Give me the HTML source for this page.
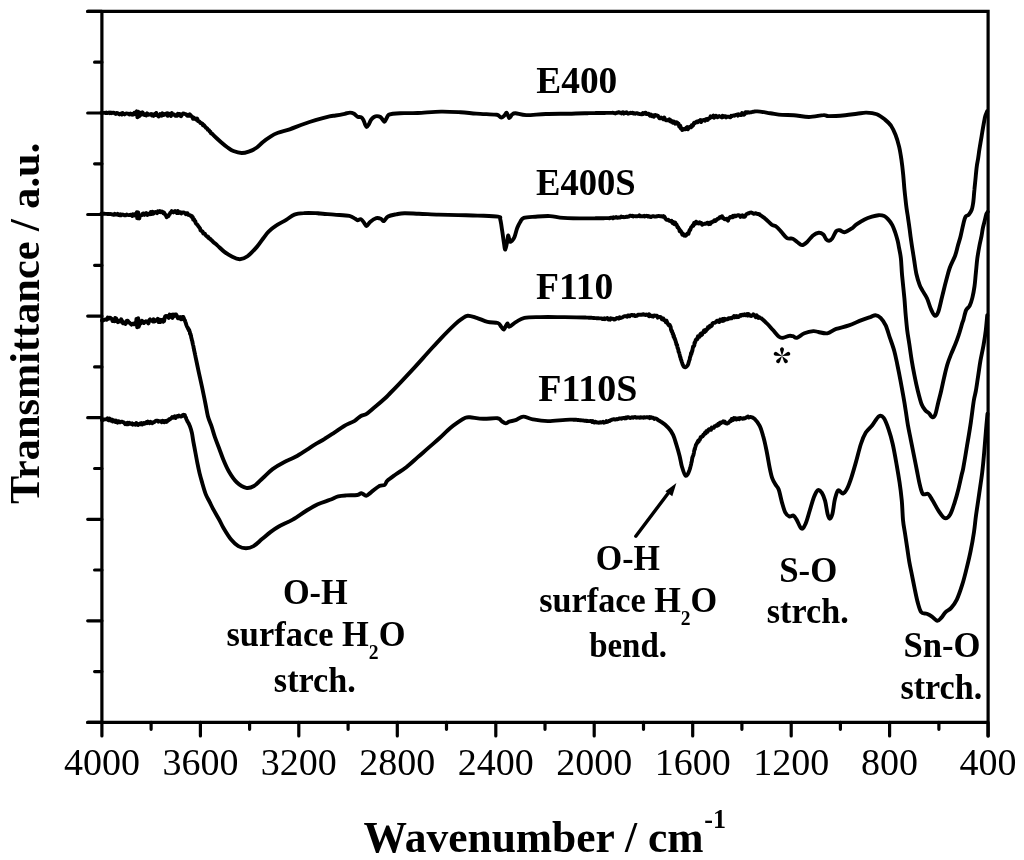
<!DOCTYPE html>
<html><head><meta charset="utf-8"><style>html,body{margin:0;padding:0;background:#fff;width:1024px;height:860px;overflow:hidden}svg{display:block;filter:grayscale(1)}</style></head>
<body><svg width="1024" height="860" viewBox="0 0 1024 860">
<path d="M87.7,11.4 H988.1 V735.9 M101.9,11.4 V722.4 M87.7,722.4 H988.1" fill="none" stroke="#000" stroke-width="3.2" stroke-linecap="round" stroke-linejoin="miter"/>
<path d="M87.7,11.4H101.9M87.7,113.0H101.9M87.7,214.5H101.9M87.7,316.1H101.9M87.7,417.7H101.9M87.7,519.3H101.9M87.7,620.8H101.9M87.7,722.4H101.9M94.6,62.2H101.9M94.6,163.8H101.9M94.6,265.3H101.9M94.6,366.9H101.9M94.6,468.5H101.9M94.6,570.0H101.9M94.6,671.6H101.9M101.9,722.4V735.9M200.4,722.4V735.9M298.8,722.4V735.9M397.3,722.4V735.9M495.8,722.4V735.9M594.2,722.4V735.9M692.7,722.4V735.9M791.2,722.4V735.9M889.6,722.4V735.9M988.1,722.4V735.9M151.1,722.4V729.3M249.6,722.4V729.3M348.1,722.4V729.3M446.5,722.4V729.3M545.0,722.4V729.3M643.5,722.4V729.3M741.9,722.4V729.3M840.4,722.4V729.3M938.9,722.4V729.3" fill="none" stroke="#000" stroke-width="3.2" stroke-linecap="round"/>
<g font-family="'Liberation Serif', serif" font-size="38"><text x="101.9" y="775" text-anchor="middle">4000</text><text x="200.4" y="775" text-anchor="middle">3600</text><text x="298.8" y="775" text-anchor="middle">3200</text><text x="397.3" y="775" text-anchor="middle">2800</text><text x="495.8" y="775" text-anchor="middle">2400</text><text x="594.2" y="775" text-anchor="middle">2000</text><text x="692.7" y="775" text-anchor="middle">1600</text><text x="791.2" y="775" text-anchor="middle">1200</text><text x="889.6" y="775" text-anchor="middle">800</text><text x="988.1" y="775" text-anchor="middle">400</text></g>
<g font-family="'Liberation Serif', serif"><text transform="translate(536.26,92.95) scale(0.9844,1)" font-size="38" font-weight="bold">E400</text>
<text transform="translate(535.98,195.45) scale(0.9640,1)" font-size="38" font-weight="bold">E400S</text>
<text transform="translate(535.96,299.15) scale(0.9908,1)" font-size="38" font-weight="bold">F110</text>
<text transform="translate(538.25,401.15) scale(1.0000,1)" font-size="38" font-weight="bold">F110S</text>
<text transform="translate(282.88,604.45) scale(0.9804,1)" font-size="35" font-weight="bold">O-H</text>
<text transform="translate(226.42,646.40) scale(0.9835,1)" font-size="35" font-weight="bold">surface H<tspan font-size="20" dy="13">2</tspan><tspan dy="-13">O</tspan></text>
<text transform="translate(273.82,691.90) scale(0.9779,1)" font-size="35" font-weight="bold">strch.</text>
<text transform="translate(595.70,569.75) scale(0.9710,1)" font-size="35" font-weight="bold">O-H</text>
<text transform="translate(539.22,611.70) scale(0.9780,1)" font-size="35" font-weight="bold">surface H<tspan font-size="20" dy="13">2</tspan><tspan dy="-13">O</tspan></text>
<text transform="translate(589.13,656.80) scale(0.9424,1)" font-size="35" font-weight="bold">bend.</text>
<text transform="translate(779.26,581.75) scale(0.9945,1)" font-size="35" font-weight="bold">S-O</text>
<text transform="translate(766.82,623.00) scale(0.9755,1)" font-size="35" font-weight="bold">strch.</text>
<text transform="translate(903.47,657.05) scale(0.9899,1)" font-size="35" font-weight="bold">Sn-O</text>
<text transform="translate(900.43,698.60) scale(0.9742,1)" font-size="35" font-weight="bold">strch.</text>
<text transform="translate(363.57,851.55) scale(0.9670,1)" font-size="45" font-weight="bold">Wavenumber / cm</text>
<text transform="translate(704.24,828.30) scale(0.9650,1)" font-size="27" font-weight="bold">-1</text>
<text transform="translate(39.1,504.04) rotate(-90) scale(0.9844,1)" font-size="43" font-weight="bold">Transmittance / a.u.</text></g>
<path d="M782.00,355.90L780.09,349.91A2.0,2.0 0 1 1 783.91,349.91ZM782.00,355.90L787.11,352.24A2.0,2.0 0 1 1 788.29,355.86ZM782.00,355.90L787.07,359.63A2.0,2.0 0 1 1 783.98,361.87ZM782.00,355.90L780.02,361.87A2.0,2.0 0 1 1 776.93,359.63ZM782.00,355.90L775.71,355.86A2.0,2.0 0 1 1 776.89,352.24Z" fill="#000"/>
<path d="M635.8,536.2L669.5,491.5" stroke="#000" stroke-width="3.4" stroke-linecap="round"/>
<path d="M676.4,483 L665.4,491.2 L672.3,496.2 Z" fill="#000"/>
<g fill="none" stroke="#000" stroke-width="3.9" stroke-linejoin="round" stroke-linecap="round"><path d="M101.9,112.9C102.2,112.9 99.9,112.8 103.5,112.9L104.0,112.9L104.5,112.9L105.2,112.8L105.8,113.1L106.6,112.6L107.4,113.1L108.2,112.9L109.1,112.4L109.9,113.2L110.9,112.5L111.8,113.2L112.8,112.6L113.7,112.7L114.7,113.3L115.7,114.0L116.6,112.9L117.6,113.1L118.5,113.8L119.4,114.4L120.3,113.8L121.1,113.5L121.9,114.5L122.7,113.0L123.4,113.8L124.5,114.4L125.5,113.6L126.6,113.5L127.6,113.6L128.5,113.9L129.5,114.5L130.4,113.5L131.3,114.4L132.1,114.7L132.9,113.8L133.6,114.4L134.3,112.7L134.9,112.6L135.4,113.1L135.9,114.1L137.0,113.8L136.9,111.7L136.7,111.6L136.8,111.4L137.0,113.4L137.1,114.1L137.2,114.7L137.4,117.3L137.5,116.6L137.6,117.0L137.8,114.5L137.9,114.5L138.0,113.2L138.2,113.5L138.3,111.8L138.5,113.0L138.6,112.5L138.8,116.3L138.9,114.3L139.1,116.3L138.8,115.2L140.0,114.2L140.5,115.1L141.1,112.8L141.8,114.0L142.6,112.4L143.4,114.7L144.3,115.0L145.3,114.3L146.2,115.4L147.2,113.4L148.2,114.8L149.2,114.5L150.1,114.5L151.0,114.1L151.9,115.5L152.7,114.3L153.6,115.9L154.5,114.3L155.3,115.0L156.2,112.9L157.0,115.3L157.8,115.2L158.6,116.5L159.4,115.9L160.2,114.1L161.0,114.5L161.8,115.6L162.5,113.3L163.3,115.0L164.2,114.9L165.1,113.8L166.0,113.6L166.8,113.3L167.7,115.8L168.5,113.5L169.3,113.9L170.2,114.3L171.0,116.0L171.9,113.1L172.7,114.6L173.6,114.4L174.4,114.7L175.3,115.9L176.2,115.7L177.1,115.8L177.9,113.7L178.8,114.2L179.6,114.0L180.5,115.9L181.2,116.2L182.0,114.6L183.0,113.4L184.0,113.6L184.9,114.0L185.8,114.1L186.6,115.2L187.5,115.8L188.2,114.8L189.0,115.8L189.9,114.3L190.7,116.0L191.5,116.0L192.2,117.0L193.0,118.8L193.8,117.6L194.5,118.7L195.1,118.4L195.8,119.2L196.5,119.8L197.2,118.6L198.0,121.1L198.8,121.3L199.6,121.7L200.1,122.5L200.6,123.0L201.2,123.0L201.8,123.6L202.4,123.6L203.0,125.2L203.6,124.8L204.2,125.4L204.8,126.3L205.4,126.9L206.0,127.8L206.6,127.9L207.2,128.4L207.8,129.9L208.4,129.9L209.1,130.4L209.7,131.5L210.4,131.6L211.0,133.5L211.7,133.7L212.3,133.9L213.0,134.7L213.6,135.3L214.2,135.9L214.8,136.5L215.4,137.0L215.9,137.5C218.2,139.7 219.8,141.1 221.7,142.8C223.6,144.5 225.6,146.1 227.6,147.5C229.6,148.9 231.1,150.1 233.4,151.0C235.7,151.9 239.1,152.9 241.6,153.0C244.1,153.1 246.1,152.5 248.7,151.6C251.2,150.7 254.6,149.1 256.9,147.5C259.2,145.9 260.4,144.1 262.7,142.2C265.0,140.3 268.3,137.9 270.9,136.3C273.4,134.7 274.9,134.0 278.0,132.8C281.1,131.6 285.4,130.8 289.7,129.3C294.0,127.8 299.5,125.5 303.8,124.0C308.1,122.5 311.2,121.5 315.5,120.2C319.8,118.9 326.1,117.2 329.5,116.4C332.9,115.6 333.1,115.9 335.6,115.5C338.1,115.1 342.3,114.3 344.7,113.8C347.1,113.3 348.4,112.6 350.0,112.6C351.6,112.6 352.8,113.1 354.1,113.8C355.4,114.5 356.4,116.1 357.6,116.7C358.8,117.3 360.1,116.8 361.1,117.3C362.1,117.8 362.7,118.7 363.4,119.9C364.1,121.1 364.6,123.4 365.2,124.6C365.8,125.8 366.1,127.0 366.7,127.0C367.3,127.0 368.0,125.8 368.7,124.6C369.4,123.4 370.1,121.2 371.0,119.9C371.9,118.6 373.0,117.6 374.0,117.0C375.0,116.4 375.8,116.1 376.9,116.1C378.0,116.1 379.4,116.4 380.4,117.0C381.4,117.6 382.1,119.1 382.8,119.9C383.5,120.7 383.9,121.9 384.5,121.7C385.1,121.5 385.6,119.8 386.3,118.7C387.0,117.6 387.5,115.7 388.6,114.9C389.7,114.1 390.8,114.1 392.7,113.8C394.6,113.5 395.8,113.3 400.0,113.2C404.2,113.1 410.9,113.3 417.7,113.0C424.5,112.7 433.9,111.7 441.0,111.6C448.1,111.5 454.7,111.9 460.6,112.2C466.5,112.5 470.6,113.2 476.3,113.6C482.0,114.0 491.4,114.3 495.0,114.6C498.6,114.8 496.8,114.6 497.9,115.1C498.9,115.6 500.2,117.5 501.3,117.6C502.4,117.7 503.4,116.4 504.3,115.6C505.2,114.8 505.9,112.3 506.7,112.7C507.5,113.1 508.3,117.8 509.2,118.1C510.1,118.4 511.1,115.4 512.1,114.6C513.1,113.8 513.1,113.1 515.5,113.2C517.9,113.3 521.2,115.0 526.3,115.1C531.3,115.2 538.8,114.2 545.8,114.0C552.8,113.8 561.7,113.8 568.2,113.7C574.7,113.6 577.3,113.3 584.8,113.2L585.5,113.2L586.1,113.2L586.9,113.2L587.6,113.2L588.4,113.1L589.1,113.1L589.9,113.1L590.7,113.1L591.6,113.1L592.4,113.1L593.3,113.1L594.1,113.1L595.0,113.1L595.9,113.0L596.8,113.0L597.7,113.0L598.6,113.0L599.5,113.0L600.4,113.0L601.3,113.0L602.2,113.0L603.1,113.0L603.9,113.0L604.8,113.0L605.7,112.9L606.5,112.9L607.4,112.9L608.2,112.9L609.0,112.9L609.8,112.9L610.6,112.9L611.3,112.9L612.0,112.9L612.7,112.8L613.4,112.9L614.4,113.2L615.4,113.5L616.4,112.8L617.3,112.9L618.2,112.3L619.1,112.3L619.9,112.7L620.7,112.6L621.5,113.4L622.3,112.4L623.0,112.3L623.8,113.6L624.5,113.0L625.2,112.5L625.9,113.0L626.7,112.3L627.4,113.0L628.1,113.7L628.8,113.5L629.5,113.3L630.3,112.7L631.0,113.1L631.9,112.9L632.7,112.7L633.6,113.6L634.5,113.3L635.4,113.7L636.3,113.1L637.2,113.1L638.0,113.7L638.9,113.8L639.7,114.0L640.6,114.2L641.4,114.4L642.2,114.4L642.9,113.0L643.7,113.9L644.4,113.5L645.1,112.7L645.7,112.7L646.3,114.1L647.6,113.6L648.6,113.6L649.4,115.0L650.2,115.8L650.9,114.5L651.6,116.0L652.4,116.3L653.3,115.2L654.0,116.7L654.7,115.2L655.5,115.0L656.3,115.3L657.1,115.5L657.9,115.8L658.7,117.2L659.5,118.3L660.3,118.4L661.1,117.6L661.9,118.4L662.7,118.2L663.5,119.3L664.3,117.5L665.1,119.4L665.9,120.3L666.8,120.2L667.6,120.4L668.4,119.8L669.2,119.2L669.9,121.2L670.6,120.1L671.3,121.7L672.0,121.1L672.9,122.8L673.8,121.5L674.6,121.9L675.3,123.7L676.0,123.5L676.7,122.3L677.3,122.5L677.9,124.0L678.6,123.7L679.2,126.5L679.8,127.0L680.3,125.9L680.8,128.5L681.4,128.1L682.2,130.0L683.1,129.5L683.9,128.9L684.9,129.3L685.6,129.3L686.3,127.8L687.1,127.1L687.9,129.3L688.7,127.9L689.6,127.0L690.3,126.6L691.0,127.3L691.7,125.3L692.4,126.0L693.2,125.3L693.9,123.0L694.7,122.6L695.5,122.9L696.2,122.0L697.0,121.5L697.8,122.2L698.7,121.0L699.5,121.2L700.3,120.1L701.1,122.1L701.8,120.3L702.5,120.5L703.5,120.0L704.3,120.1L705.1,120.7L705.9,119.1L707.0,119.0L707.7,120.0L708.3,118.6L709.1,118.4L709.8,118.1L710.6,116.4L711.5,117.3L712.4,116.4L713.3,115.6L714.2,117.7L715.2,116.7L715.9,115.7L716.7,116.5L717.5,117.2L718.3,116.8L719.2,116.1L720.0,116.7L720.9,116.9L721.8,117.5L722.6,115.7L723.5,117.0L724.4,116.1L725.3,116.2L726.2,117.5L727.0,116.7L727.8,116.6L728.7,116.6L729.5,117.1L730.4,117.3L731.2,115.8L732.1,116.1L732.9,115.6L733.8,115.4L734.6,115.7L735.4,114.9L736.3,114.9L737.1,114.6L737.9,115.7L738.7,114.3L739.6,114.7L740.4,115.0L741.3,115.1L742.1,113.0L742.9,113.7L743.8,114.7L744.6,114.3L745.4,112.2L746.2,112.1L747.0,112.8L747.7,112.1L748.5,112.4L749.2,112.6L750.1,112.4L750.9,112.3L751.7,112.1L752.4,111.9L753.2,111.8L753.9,111.6L754.7,111.5L755.5,111.4L756.4,111.4L757.4,111.4C760.9,111.5 766.2,112.6 770.3,113.2C774.4,113.8 778.1,114.6 782.0,114.9C785.9,115.2 789.3,114.9 793.8,115.2C798.3,115.5 804.0,117.0 809.0,117.0C814.0,117.0 820.2,115.2 823.5,115.1C826.8,114.9 825.2,116.1 828.8,116.1C832.4,116.1 840.5,115.6 845.2,115.2C849.9,114.8 853.4,114.2 856.9,113.8C860.4,113.4 863.0,112.5 866.3,112.6C869.6,112.7 873.7,113.1 876.8,114.3C879.9,115.5 882.6,117.7 885.0,119.6C887.4,121.5 889.1,123.0 890.9,125.5C892.6,128.0 894.1,131.3 895.5,134.8C896.9,138.3 898.1,142.5 899.1,146.6C900.1,150.7 900.7,154.8 901.4,159.5C902.1,164.2 902.7,169.6 903.2,174.7C903.7,179.8 904.0,185.0 904.5,190.0C905.0,195.0 905.6,200.4 906.1,204.8C906.6,209.2 907.2,212.4 907.8,216.2C908.3,220.0 908.9,223.9 909.4,227.5C909.9,231.1 910.2,233.7 910.7,237.5C911.2,241.3 912.0,246.5 912.6,250.3C913.2,254.1 913.6,256.4 914.2,260.4C914.8,264.3 915.5,270.0 916.4,274.0C917.3,278.0 918.5,281.8 919.5,284.6C920.5,287.4 921.2,288.3 922.5,290.6C923.8,292.9 925.6,295.2 927.0,298.2C928.4,301.2 929.5,305.9 930.8,308.8C932.1,311.7 933.5,315.1 934.8,315.6C936.0,316.1 937.1,315.0 938.3,311.8C939.5,308.6 940.8,301.7 942.1,296.7C943.4,291.7 944.6,286.4 945.9,281.6C947.2,276.8 948.2,272.3 949.7,268.0C951.2,263.7 953.6,259.7 955.0,256.0C956.4,252.3 956.9,249.3 957.8,246.0C958.7,242.7 959.7,239.9 960.6,236.2C961.5,232.5 962.6,226.9 963.4,223.7C964.2,220.4 964.6,218.2 965.5,216.7C966.4,215.2 967.9,215.8 968.9,214.6C969.9,213.4 971.0,211.6 971.7,209.8C972.4,208.0 972.6,206.1 973.0,204.0C973.4,201.9 973.6,199.3 973.8,197.0C974.0,194.7 974.1,192.7 974.4,190.0C974.6,187.3 974.9,184.8 975.3,180.9C975.7,177.1 976.2,170.6 976.7,166.9C977.2,163.2 977.6,161.6 978.1,158.6C978.6,155.6 978.9,152.5 979.5,148.8C980.1,145.1 981.0,139.8 981.6,136.3C982.2,132.8 982.4,131.2 983.0,127.9C983.6,124.6 984.4,119.5 985.1,116.7C985.8,113.9 986.9,112.1 987.2,111.2"/><path d="M101.9,213.8C102.2,213.8 99.9,213.7 103.5,213.8L104.0,213.8L104.5,213.8L105.2,213.9L105.8,213.9L106.6,213.9L107.4,214.0L108.2,214.0L109.1,214.0L109.9,214.1L110.9,214.0L111.8,214.3L112.8,214.5L113.7,214.8L114.7,213.8L115.7,214.6L116.6,214.6L117.6,213.9L118.5,215.0L119.4,215.2L120.3,214.2L121.1,215.2L121.9,214.5L122.7,214.6L123.4,214.7L124.5,215.4L125.5,215.3L126.6,214.5L127.6,214.9L128.5,215.1L129.5,215.0L130.4,214.8L131.3,214.9L132.1,215.9L132.9,214.2L133.6,215.6L134.3,215.3L134.9,214.2L135.4,215.0L135.9,215.4L137.0,214.8L136.9,213.2L136.7,212.8L136.8,212.2L137.0,215.7L137.1,216.4L137.2,218.1L137.4,216.8L137.5,218.2L137.6,217.2L137.8,215.7L137.9,216.4L138.0,213.8L138.2,212.4L138.3,213.0L138.4,213.1L138.6,215.2L138.7,216.1L138.8,215.7L139.0,216.4L139.1,217.8L139.3,218.5L139.6,216.4L140.0,215.3L140.7,215.6L142.2,214.9L142.8,213.7L143.6,213.5L144.4,214.9L145.2,214.1L146.2,213.0L147.2,215.0L148.2,214.0L149.2,213.5L150.0,214.1L150.8,212.1L151.7,214.0L152.6,211.7L153.6,213.6L154.5,212.4L155.4,211.9L156.3,212.4L157.1,213.2L157.9,211.4L158.6,212.0L159.7,211.1L160.5,212.2L161.3,211.6L162.0,211.5L162.6,212.0L163.3,213.2L164.0,212.6L164.7,213.7L165.3,214.8L166.0,215.5L166.7,217.2L167.4,216.7L168.0,215.9L168.5,216.0L169.1,214.5L169.7,214.1L170.4,212.5L171.1,212.3L171.8,211.1L172.7,212.0L173.4,212.5L174.2,211.9L175.1,211.0L176.0,211.8L176.9,213.0L177.9,211.0L178.8,213.0L179.7,212.1L180.5,212.4L181.3,213.4L182.0,212.6L183.2,212.4L184.2,212.7L185.0,213.2L185.8,214.1L186.7,213.2L187.4,213.1L188.1,214.8L188.8,215.0L189.5,215.3L190.1,215.3L190.8,215.7L191.4,216.7L191.9,216.1L192.4,216.8L192.8,217.2L193.2,219.6L193.7,219.0L194.2,219.6L194.9,221.4L195.3,221.2L195.7,223.0L196.1,223.6L196.5,223.9L197.0,224.3L197.5,225.0L198.0,225.7L198.5,226.5L199.0,226.9L199.5,227.9L200.0,228.3L200.5,230.2L201.0,230.8L201.5,230.8L202.0,231.3L202.6,231.6L203.2,233.4L203.7,233.0L204.3,233.7L204.9,233.7L205.4,234.9L206.0,235.6L206.6,236.2L207.2,236.2L207.8,237.3L208.4,237.0L209.0,238.4L209.6,238.6L210.2,238.8L210.8,239.8L211.4,240.0L212.0,240.6L212.7,241.4L213.3,242.0L213.9,242.6L214.6,243.1L215.2,243.6L215.8,244.1L216.4,244.6L217.0,245.1C219.5,247.3 221.5,249.6 224.1,251.6C226.7,253.6 229.7,255.5 232.3,256.8C234.9,258.1 237.4,259.3 239.9,259.2C242.4,259.1 244.7,258.4 247.5,256.3C250.3,254.2 254.2,250.0 256.9,246.9C259.6,243.8 261.9,240.1 263.9,237.5C265.8,234.9 266.5,233.7 268.6,231.6C270.8,229.5 273.9,227.1 276.8,225.2C279.7,223.2 283.3,221.7 286.2,219.9C289.1,218.1 291.5,215.7 294.4,214.6C297.3,213.5 300.3,213.3 303.8,213.1C307.3,212.8 312.8,213.0 315.5,213.1C318.2,213.2 316.9,213.2 320.0,213.5C323.1,213.8 329.2,214.2 334.1,214.6C339.0,215.0 345.8,215.1 349.3,215.8C352.8,216.5 353.8,218.1 355.2,218.8C356.6,219.5 356.5,220.1 357.5,220.2C358.5,220.3 359.8,218.8 361.0,219.3C362.2,219.8 363.6,222.3 364.5,223.4C365.4,224.5 365.6,226.3 366.6,226.0C367.6,225.7 368.8,223.0 370.4,221.7C372.0,220.4 374.6,218.7 376.3,218.2C378.1,217.7 379.6,218.3 380.9,218.8C382.2,219.3 382.7,221.5 383.9,221.1C385.1,220.7 385.9,217.5 388.0,216.4C390.1,215.3 393.5,214.8 396.2,214.3C398.9,213.8 400.6,213.3 404.4,213.2C408.2,213.1 413.3,213.5 419.0,213.7C424.7,213.9 432.1,214.4 438.6,214.6C445.1,214.8 451.6,214.9 458.1,215.1C464.6,215.3 471.1,215.3 477.7,215.6C484.3,215.9 494.2,216.0 498.0,216.7C501.8,217.4 499.6,217.3 500.3,219.6C501.0,221.8 501.5,226.5 502.1,230.2C502.7,233.9 503.3,238.7 503.8,241.9C504.3,245.1 504.7,249.8 505.3,249.6C505.9,249.4 506.8,243.1 507.3,240.7C507.8,238.3 507.9,235.3 508.3,235.4C508.7,235.5 509.1,240.4 509.7,241.3C510.3,242.2 511.2,241.4 512.0,240.7C512.8,240.0 513.5,239.3 514.4,237.2C515.3,235.0 516.3,230.3 517.3,227.8C518.3,225.3 519.1,223.7 520.2,222.0C521.3,220.3 521.2,218.8 523.8,217.9C526.3,217.0 531.1,217.0 535.5,216.7C539.9,216.4 545.4,215.9 550.0,216.1C554.6,216.3 557.2,217.5 563.4,217.9C569.5,218.3 579.1,218.4 586.9,218.4L587.7,218.4L588.5,218.4L589.3,218.4L590.1,218.4L590.9,218.4L591.7,218.4L592.6,218.4L593.4,218.4L594.2,218.4L595.0,218.4L595.8,218.3L596.6,218.3L597.4,218.3L598.2,218.3L599.0,218.3L599.8,218.3L600.6,218.2L601.4,218.2L602.2,218.2L603.0,218.2L603.8,218.2L604.6,218.1L605.5,218.1L606.3,218.1L607.1,218.1L607.9,218.1L608.7,218.1L609.5,218.3L610.3,217.9L611.1,217.7L611.9,217.6L612.8,218.3L613.6,217.3L614.4,217.9L615.3,217.7L616.1,217.0L617.0,217.8L617.8,217.8L618.7,217.4L619.5,217.5L620.4,217.5L621.2,216.6L622.1,217.0L622.9,216.9L623.8,217.2L624.6,217.1L625.4,217.1L626.2,216.7L627.0,217.0L627.8,216.7L628.6,216.6L629.4,216.0L630.2,215.7L630.9,215.8L631.7,216.0L632.4,215.7L633.1,216.5L633.8,216.1L634.8,216.1L635.7,216.2L636.7,216.2L637.6,216.2L638.5,216.0L639.3,215.4L640.2,216.4L641.0,216.4L641.8,216.1L642.6,216.2L643.4,216.4L644.2,215.7L645.0,216.5L645.7,216.0L646.4,215.8L647.2,216.0L647.9,216.6L648.6,216.0L649.3,216.7L650.0,216.4L651.0,217.0L652.0,216.4L652.9,216.2L653.8,216.3L654.7,216.5L655.6,216.6L656.5,216.3L657.3,216.3L658.1,215.9L658.9,216.0L659.7,216.1L660.4,216.3L661.1,216.2L661.7,216.4L662.7,216.8L663.5,216.1L664.2,216.5L664.9,217.4L665.5,218.8L666.1,219.3L666.8,219.8L667.6,219.9L668.3,219.8L669.0,220.6L669.8,220.9L670.6,221.2L671.5,220.8L672.3,222.9L673.1,221.8L673.9,223.9L674.6,224.2L675.2,222.5L675.8,224.0L676.6,224.6L677.1,226.2L677.5,227.3L677.8,226.9L678.2,227.3L678.7,228.7L679.1,228.7L679.6,231.0L680.1,230.2L680.7,231.8L681.2,231.6L681.8,233.2L682.3,234.7L682.9,233.4L683.4,234.6L684.2,235.6L685.0,235.0L685.8,235.7L686.6,234.9L687.4,233.4L688.1,233.4L688.5,233.8L688.9,232.3L689.4,230.6L689.8,229.8L690.1,230.1L690.5,229.2L690.9,228.0L691.4,226.9L691.8,226.7L692.2,226.4L692.8,225.2L693.4,225.6L694.1,223.0L694.7,224.1L695.4,223.7L696.1,221.7L696.9,222.3L697.6,223.2L698.3,222.8L699.0,223.4L699.8,222.4L700.6,222.9L701.4,223.2L702.2,224.8L703.1,224.1L703.9,224.0L704.7,223.7L705.5,223.8L706.3,223.4L707.1,222.7L707.9,222.7L708.8,224.1L709.6,222.7L710.4,223.9L711.3,222.1L712.1,222.3L712.8,221.4L713.5,221.6L714.2,220.4L714.9,220.2L715.6,220.9L716.3,220.2L717.0,219.5L717.7,218.6L718.3,218.7L719.0,218.4L719.7,217.3L720.3,217.0L721.1,217.5L722.0,216.2L722.8,218.1L723.6,218.0L724.4,219.2L725.2,219.4L725.9,219.1L726.6,218.8L727.3,219.9L728.0,220.6L728.6,218.5L729.1,218.6L729.6,217.7L730.2,216.9L731.0,217.3L732.0,216.4L732.6,217.3L733.3,215.7L734.1,216.5L735.0,215.6L735.8,216.2L736.7,215.8L737.7,215.3L738.6,215.3L739.6,215.4L740.5,216.9L741.4,216.0L742.2,215.4L743.1,216.8L743.8,215.8L744.8,216.7L745.7,215.2L746.5,214.1L747.3,213.9L748.1,213.3L748.9,213.4L749.7,212.6L750.4,212.6L751.2,212.5L752.0,212.9L752.8,213.1L753.7,213.9L754.5,213.7L755.4,213.2L756.3,213.4L757.1,214.0L757.9,213.9L758.7,214.2L759.5,214.3L760.2,215.2L761.0,215.5L761.8,216.1L762.5,216.6L763.2,217.1L763.9,217.6L764.5,218.1L765.2,218.7L765.9,219.3C767.8,220.9 770.0,223.4 771.7,224.6C773.5,225.8 774.8,225.5 776.4,226.7C778.0,227.9 779.3,229.7 781.1,231.6C782.9,233.5 785.0,236.9 787.0,238.1C789.0,239.3 791.0,238.0 792.8,238.7C794.5,239.4 796.0,241.1 797.5,242.2C799.0,243.3 800.4,245.1 802.0,245.1C803.6,245.1 805.1,243.8 806.9,242.2C808.7,240.6 810.8,237.3 812.7,235.7C814.7,234.1 816.8,233.0 818.6,232.8C820.4,232.6 822.0,233.5 823.3,234.6C824.6,235.7 825.2,238.3 826.2,239.3C827.2,240.3 828.1,240.9 829.1,240.8C830.1,240.7 830.9,240.3 832.1,238.7C833.3,237.1 834.9,232.5 836.2,231.1C837.5,229.7 838.3,230.0 839.7,230.2C841.1,230.4 842.5,232.4 844.4,232.2C846.3,231.9 849.4,230.0 851.4,228.7C853.4,227.4 854.3,225.9 856.5,224.3C858.7,222.8 862.0,220.7 864.6,219.4C867.2,218.1 869.7,217.3 872.0,216.6C874.3,215.9 876.5,215.3 878.5,215.2C880.5,215.1 882.6,215.3 884.2,216.0C885.8,216.7 886.9,217.9 888.2,219.4C889.6,220.9 891.1,222.9 892.3,225.1C893.5,227.3 894.3,229.8 895.2,232.4C896.1,235.0 896.9,237.9 897.6,240.6C898.3,243.3 898.7,245.7 899.2,248.7C899.8,251.7 900.4,254.0 900.9,258.5C901.4,263.0 901.5,268.9 902.1,275.5C902.7,282.1 903.8,291.6 904.4,298.2C905.0,304.8 905.2,309.8 905.7,315.1C906.2,320.4 906.6,325.2 907.2,330.2C907.8,335.2 908.8,340.3 909.5,345.3C910.2,350.3 910.9,355.3 911.7,360.4C912.5,365.4 913.5,370.6 914.5,375.6C915.5,380.7 916.6,385.9 917.8,390.7C919.0,395.5 920.4,401.0 921.6,404.3C922.9,407.6 924.0,408.8 925.3,410.3C926.5,411.8 928.0,412.2 929.1,413.3C930.2,414.4 931.1,416.9 932.1,417.1C933.1,417.4 934.2,417.2 935.2,414.8C936.2,412.4 937.2,406.7 938.2,402.7C939.2,398.7 940.2,395.0 941.2,390.7C942.2,386.4 943.2,381.4 944.2,377.1C945.2,372.8 946.1,368.8 947.2,365.0C948.3,361.2 949.6,357.9 951.0,354.4C952.4,350.9 954.1,347.3 955.5,343.8C956.9,340.3 958.1,336.7 959.3,333.2C960.4,329.7 961.7,324.9 962.4,322.7C963.1,320.5 962.8,322.0 963.4,319.9C964.0,317.8 965.1,312.4 966.1,310.1C967.1,307.8 968.6,308.0 969.6,305.9C970.6,303.8 971.6,300.9 972.4,297.6C973.2,294.4 973.9,290.6 974.5,286.4C975.1,282.2 975.4,277.1 975.9,272.5C976.4,267.9 976.7,262.9 977.3,258.5C977.9,254.1 978.7,249.7 979.4,246.0C980.1,242.3 980.9,239.2 981.5,236.2C982.1,233.2 982.4,230.2 982.9,227.9C983.4,225.6 983.7,224.6 984.3,222.3C984.9,220.0 985.8,215.7 986.4,213.9C987.0,212.2 987.6,212.2 987.8,211.8"/><path d="M101.9,320.5C102.1,320.5 101.8,320.8 102.9,320.5L103.4,320.3L104.1,319.9L104.8,319.6L105.7,319.4L106.6,319.8L107.7,317.6L108.8,318.6L109.5,317.7L110.2,317.7L111.0,318.5L111.8,318.8L112.6,321.1L113.5,320.9L114.3,321.2L115.2,318.0L116.1,318.3L117.0,321.3L117.9,322.2L118.7,320.7L119.5,321.0L120.4,321.5L121.2,319.3L122.1,321.0L123.0,323.3L123.8,323.0L124.7,323.3L125.5,323.9L126.3,321.1L127.1,320.6L127.9,320.9L128.6,322.5L129.3,322.5L130.3,323.4L131.3,324.6L132.2,323.9L133.1,323.7L133.9,324.3L134.6,323.2L135.2,323.5L135.7,323.2L136.3,320.6L136.4,322.2L136.4,318.9L136.5,319.8L136.6,322.0L136.7,321.7L136.8,321.5L136.9,322.0L137.0,323.7L137.1,326.3L137.2,327.3L137.3,326.8L137.4,325.0L137.5,324.0L137.6,324.8L137.7,323.8L137.8,321.7L137.9,320.0L138.0,320.7L138.1,320.0L138.2,318.3L138.3,320.1L138.4,321.7L138.5,324.8L138.6,324.7L138.7,326.7L138.8,325.9L138.9,326.4L139.0,325.1L139.0,324.2L139.1,325.8L139.8,323.1L140.4,323.7L141.1,321.9L141.9,320.7L142.8,322.5L143.8,323.1L144.8,322.0L145.8,321.2L146.9,322.0L147.6,322.5L148.4,323.4L149.2,320.4L150.1,319.4L150.9,320.4L151.8,320.6L152.7,321.4L153.6,319.3L154.4,321.5L155.2,321.1L155.9,320.1L156.6,320.0L157.7,318.9L158.6,322.1L159.5,319.7L160.3,322.1L161.1,319.9L161.8,320.0L162.5,321.0L163.1,321.7L163.6,319.2L164.1,321.1L164.6,318.5L165.1,316.5L165.7,316.0L166.4,316.6L167.1,316.0L167.9,316.9L168.8,317.9L169.7,314.6L170.6,315.6L171.6,314.9L172.5,317.9L173.4,314.6L174.2,316.1L175.2,314.4L176.1,314.5L177.0,316.0L177.8,318.2L178.6,318.3L179.4,317.8L180.1,317.1L181.0,319.3L181.9,319.1L182.6,316.9L183.3,317.0L184.0,318.6L184.3,319.9L184.6,320.1L184.9,320.1L185.2,321.5L185.5,322.2L185.8,323.1L186.1,324.1L186.3,324.9L186.6,325.5L186.9,326.4L187.3,327.1L187.7,327.7L188.1,328.9L188.4,328.6L188.8,330.3L189.2,330.0L189.6,331.5L189.8,331.8L190.0,333.4L190.2,334.1L190.4,334.1L190.6,334.2L190.9,335.8L191.1,336.5L191.3,338.1L191.5,338.0L191.7,339.1L191.9,340.6L192.2,340.7L192.4,342.0L192.6,343.0L192.8,343.9L192.9,344.6L193.1,345.1L193.3,345.9L193.5,346.7L193.6,347.7L193.8,348.5L194.0,349.3L194.1,350.2L194.3,351.0L194.5,351.8L194.7,352.7L194.8,353.5L195.0,354.4L195.2,355.2L195.4,356.1L195.5,356.9L195.7,357.7C196.7,362.6 197.8,367.4 198.8,372.3C199.9,377.2 200.9,381.8 202.0,386.9C203.1,392.0 204.3,398.1 205.3,403.0C206.3,407.9 206.9,412.4 207.9,416.2C208.9,420.0 210.2,422.4 211.4,425.9C212.6,429.4 213.6,433.4 214.9,437.1C216.2,440.8 217.7,444.6 219.1,448.3C220.5,452.0 221.7,455.6 223.3,459.5C224.9,463.4 226.7,467.7 228.9,471.5C231.1,475.3 233.8,479.5 236.7,482.2C239.6,484.9 243.3,487.2 246.2,487.8C249.1,488.4 251.2,487.6 254.0,486.0C256.8,484.4 259.8,480.8 262.9,478.0C266.0,475.2 269.1,471.7 272.6,469.1C276.1,466.5 280.2,464.2 284.0,462.2C287.8,460.1 291.7,458.9 295.5,456.8C299.3,454.7 303.4,451.9 306.7,449.8C310.0,447.7 312.1,446.1 315.1,444.3C318.1,442.5 321.5,440.8 324.7,438.8C327.9,436.9 331.1,434.7 334.3,432.6C337.5,430.5 340.4,428.2 343.8,426.2C347.2,424.2 351.9,422.5 354.7,420.8C357.5,419.1 358.4,417.4 360.5,416.2C362.6,415.0 364.6,415.2 367.0,413.6C369.4,412.0 372.2,409.3 375.2,406.8C378.2,404.3 382.3,400.8 384.8,398.5C387.3,396.2 388.0,395.3 390.3,393.0C392.6,390.7 394.6,388.7 398.5,384.6C402.4,380.5 408.9,373.6 413.7,368.4C418.5,363.2 422.8,358.3 427.3,353.3C431.9,348.3 436.4,343.1 441.0,338.3C445.6,333.5 451.3,327.8 454.7,324.6C458.1,321.4 459.3,320.6 461.5,319.1C463.7,317.6 465.2,315.9 467.7,315.7C470.2,315.5 473.3,316.8 476.6,317.8C479.9,318.8 484.0,321.0 487.5,321.9C491.0,322.8 495.5,322.2 497.8,323.0C500.1,323.8 500.2,325.6 501.2,326.7C502.2,327.8 502.9,329.9 503.9,329.4C504.9,328.9 506.4,323.9 507.3,323.5C508.2,323.1 507.9,327.0 509.4,326.7C510.9,326.4 513.7,323.4 516.2,321.9C518.7,320.4 520.4,318.6 524.4,317.8C528.4,317.0 534.5,317.2 540.0,317.1C545.5,317.0 549.8,317.0 557.3,317.1C564.8,317.2 575.6,317.2 584.7,317.5L585.5,317.5L586.3,317.6L587.2,317.6L588.0,317.6L588.8,317.7L589.7,317.7L590.6,317.8L591.4,317.8L592.3,317.9L593.2,318.0L594.0,318.0L594.9,318.1L595.8,318.1L596.6,318.2L597.5,318.3L598.4,318.3L599.2,318.4L600.1,318.4L600.9,318.4L601.7,318.4L602.6,319.1L603.4,318.8L604.2,318.3L605.0,319.1L605.7,318.5L606.5,318.5L607.3,318.1L608.0,319.3L608.7,319.6L609.4,319.1L610.1,319.6L610.7,318.2L611.4,318.5L612.0,318.9L613.1,318.8L614.2,319.5L615.1,319.4L616.0,318.4L616.8,318.0L617.6,318.2L618.3,318.1L618.9,318.6L619.6,317.3L620.3,318.1L620.9,317.8L621.6,317.7L622.3,317.5L623.0,317.0L623.9,316.4L624.7,316.3L625.7,316.4L626.4,316.1L627.2,316.7L627.9,315.4L628.8,315.5L629.6,316.3L630.5,315.4L631.4,315.0L632.3,314.9L633.3,315.6L634.2,315.1L635.2,316.1L636.1,315.8L637.0,315.7L638.0,314.8L638.9,314.7L639.8,314.8L640.6,314.8L641.5,314.9L642.3,314.6L643.1,314.1L643.8,314.3L644.5,314.8L645.1,314.9L645.7,315.0L646.2,314.4L647.9,315.3L648.7,315.1L648.9,314.2L649.1,316.3L650.0,315.8L650.7,315.4L651.4,316.2L652.3,315.8L653.2,316.7L654.1,315.5L655.1,315.7L656.0,315.8L656.9,315.7L657.8,317.6L658.7,317.0L659.4,317.0L660.3,316.9L661.1,317.4L661.9,319.3L662.6,318.5L663.3,318.4L664.0,320.2L664.6,320.4L665.2,320.5L665.9,322.3L666.5,320.7L667.1,322.2L667.7,323.7L668.3,324.5L668.8,325.4L669.3,325.2L669.7,324.8L670.0,326.0L670.4,326.3L670.7,327.2L671.0,329.9L671.3,329.8L671.6,331.4L672.0,331.0L672.3,332.2L672.6,333.8L672.8,333.5L673.1,333.7L673.4,335.7L673.6,336.9L673.9,335.7L674.2,337.7L674.5,338.5L674.8,338.4L675.0,339.6L675.3,339.8L675.5,340.7L675.8,342.2L676.1,342.4L676.3,344.1L676.6,345.0L676.8,344.7L677.1,345.0L677.3,346.6L677.6,348.2L677.8,347.8L678.0,348.9L678.3,349.4L678.5,351.5L678.7,351.6L679.0,352.6L679.2,352.6L679.4,353.6L679.7,354.9L679.9,355.9L680.1,356.8L680.4,357.1L680.6,358.0L680.8,359.2L681.1,359.8L681.4,360.6L681.7,361.6L682.0,362.5L682.3,363.4L682.6,364.3L683.0,365.1L683.3,365.8L683.6,366.4L684.0,366.8C685.1,367.8 686.4,367.4 687.5,365.6L687.8,365.1L688.0,364.5L688.3,363.9L688.5,363.0L688.7,362.3L689.0,361.4L689.2,360.5L689.4,360.1L689.7,359.4L689.9,357.8L690.2,356.7L690.4,356.3L690.6,355.9L690.9,354.2L691.1,352.9L691.4,354.0L691.6,352.2L691.9,352.3L692.1,350.5L692.4,350.9L692.6,349.1L692.9,347.5L693.1,346.4L693.4,346.9L693.7,346.2L694.0,345.7L694.3,345.6L694.5,342.7L694.8,343.3L695.1,341.9L695.4,341.5L695.8,339.8L696.1,339.5L696.5,339.4L696.9,338.7L697.4,339.1L697.9,336.3L698.5,336.7L699.0,336.9L699.6,336.8L700.3,334.2L700.9,333.5L701.5,335.1L702.1,334.6L702.7,332.8L703.3,332.1L704.0,330.4L704.6,332.1L705.3,330.1L705.9,330.9L706.5,329.5L707.2,329.5L707.9,327.2L708.6,327.5L709.2,327.7L709.9,325.7L710.5,325.6L711.1,326.2L711.8,325.6L712.5,323.4L713.2,323.0L714.0,322.9L714.7,322.8L715.6,322.3L716.3,321.7L717.0,320.7L717.8,320.8L718.6,321.8L719.4,322.0L720.2,319.6L721.0,320.7L721.9,321.0L722.7,318.9L723.6,320.8L724.5,318.7L725.3,319.8L726.2,319.3L726.9,319.2L727.7,319.2L728.5,318.2L729.2,318.3L730.0,318.5L730.8,317.9L731.6,318.3L732.4,317.5L733.2,317.3L734.0,316.0L734.8,317.4L735.5,316.8L736.3,316.0L737.1,317.2L737.9,316.4L738.7,317.0L739.6,316.0L740.4,315.1L741.3,315.8L742.2,314.7L743.0,314.6L743.9,315.3L744.7,314.4L745.6,315.2L746.4,315.3L747.2,314.0L748.0,315.6L748.8,314.1L749.6,315.2L750.5,315.8L751.5,316.0L752.4,315.4L753.3,314.3L754.1,315.6L755.0,315.4L755.8,317.1L756.7,315.2L757.4,317.3L758.2,317.9L759.0,317.0L759.7,317.7L760.5,318.1L761.2,318.1L761.8,318.8L762.5,319.3L763.2,319.9L763.8,320.5L764.4,321.1L765.1,321.7L765.7,322.3L766.3,322.9C768.6,325.0 770.6,327.5 772.7,329.8C774.8,332.1 777.3,335.5 779.0,336.8C780.7,338.1 781.2,338.0 782.9,337.8C784.6,337.6 787.5,336.1 789.2,335.8C790.9,335.5 791.7,335.9 793.0,336.2C794.3,336.5 794.9,338.3 796.8,337.8C798.7,337.3 801.6,334.4 804.4,333.3C807.1,332.2 811.0,331.3 813.3,331.1C815.6,330.9 816.1,331.6 818.4,332.0C820.7,332.4 824.3,333.8 827.3,333.3C830.3,332.8 832.6,330.2 836.2,328.9C839.8,327.6 844.7,326.9 848.9,325.4C853.1,323.9 858.0,321.5 861.6,320.1C865.2,318.7 868.1,317.9 870.4,317.1C872.7,316.3 873.8,315.1 875.5,315.2C877.2,315.3 878.9,316.1 880.6,317.8C882.3,319.5 884.1,322.0 885.7,325.4C887.3,328.8 888.5,333.8 890.0,338.1C891.5,342.4 893.2,346.9 894.4,351.4C895.6,355.9 896.4,360.2 897.4,365.0C898.4,369.8 899.4,374.8 900.4,380.1C901.4,385.4 902.5,391.7 903.4,396.7C904.3,401.7 904.9,405.3 905.6,410.0C906.4,414.7 907.0,420.1 907.9,425.1C908.8,430.2 909.9,435.2 910.9,440.3C911.9,445.4 912.9,450.4 913.9,455.4C914.9,460.4 915.9,465.5 916.9,470.5C917.9,475.5 919.0,481.7 920.0,485.6C921.0,489.5 921.6,492.6 923.0,494.0C924.4,495.4 926.7,492.9 928.3,494.0C929.9,495.1 931.0,497.9 932.8,500.8C934.6,503.7 936.9,508.4 938.9,511.3C940.9,514.2 943.0,517.7 944.9,518.2C946.8,518.7 948.6,517.0 950.2,514.4C951.8,511.8 953.3,506.6 954.7,502.3C956.1,498.0 957.4,493.2 958.5,488.7C959.6,484.1 960.8,478.5 961.6,475.0C962.4,471.5 962.4,472.8 963.3,467.9C964.2,462.9 965.9,452.9 967.1,445.3C968.4,437.8 969.7,430.2 970.8,422.6C971.9,415.1 973.0,405.3 973.9,400.0C974.8,394.7 975.2,394.8 975.9,390.7C976.6,386.6 977.4,380.7 978.2,375.6C979.0,370.6 979.6,365.4 980.5,360.4C981.4,355.3 982.6,350.3 983.5,345.3C984.4,340.3 985.2,335.2 985.8,330.2C986.4,325.2 987.0,317.6 987.3,315.1"/><path d="M101.9,420.0C102.1,420.0 102.1,420.2 102.9,420.0L103.4,419.8L104.1,419.5L104.8,419.4L105.7,419.4L106.8,419.0L107.4,418.4L108.1,419.8L108.8,420.3L109.5,418.6L110.3,419.5L111.1,420.6L112.0,419.6L112.8,421.4L113.7,420.3L114.6,421.0L115.3,421.9L116.1,420.6L116.8,421.5L117.6,422.6L118.4,421.2L119.2,421.5L120.0,422.3L120.8,422.0L121.7,421.6L122.6,422.0L123.5,422.1L124.4,423.0L125.2,424.1L126.0,423.6L126.8,424.2L127.6,422.7L128.5,424.1L129.3,422.7L130.2,423.7L131.1,424.0L132.0,423.4L132.8,424.6L133.7,424.0L134.6,424.1L135.4,424.7L136.3,423.0L137.1,423.9L138.0,425.0L138.8,424.1L139.7,423.5L140.5,424.3L141.4,423.0L142.2,424.5L143.0,423.5L143.8,422.9L144.7,423.7L145.5,422.8L146.3,422.1L147.1,423.2L148.0,421.6L148.8,422.5L149.6,423.1L150.5,421.8L151.4,422.5L152.3,423.2L153.2,422.2L154.1,422.2L155.0,421.4L155.9,420.6L156.7,420.6L157.6,420.7L158.4,421.7L159.1,421.2L159.8,421.4L160.5,421.3L161.7,422.2L162.6,420.7L163.5,421.1L164.2,422.3L165.0,421.0L165.7,421.0L166.4,422.0L167.1,421.3L167.8,420.3L168.5,420.2L169.1,419.2L169.8,419.4L170.5,418.8L171.3,418.1L172.1,417.1L172.9,417.8L173.7,417.3L174.6,416.4L175.5,418.0L176.4,416.3L177.3,416.0L178.1,416.6L179.0,415.5L180.0,416.4L180.9,416.6L181.9,416.2L182.7,415.1L183.5,414.8L184.2,415.5L184.8,415.0L185.2,416.7L185.6,417.2L186.0,417.8L186.3,418.9L186.6,419.6L187.0,420.4L187.4,421.3L187.8,421.9L188.2,422.6L188.6,423.4L189.1,424.2L189.4,425.0L189.8,425.9C190.6,428.0 191.3,430.3 191.9,432.9C192.5,435.5 192.7,438.0 193.3,441.3C193.9,444.6 194.7,448.8 195.4,452.5C196.1,456.2 196.8,460.2 197.5,463.7C198.2,467.2 198.8,470.1 199.6,473.4C200.4,476.6 201.3,479.7 202.3,483.2C203.3,486.7 204.6,491.4 205.8,494.4C207.0,497.4 208.0,498.8 209.3,501.4C210.6,503.9 211.9,506.7 213.5,509.7C215.1,512.7 217.4,516.5 219.1,519.5C220.8,522.5 221.5,524.6 223.5,528.0C225.5,531.4 228.8,536.8 231.3,539.8C233.8,542.8 235.9,544.7 238.3,546.1C240.8,547.5 243.4,548.2 246.0,548.2C248.6,548.2 250.9,547.6 253.6,546.1C256.3,544.6 259.2,541.4 262.0,539.1C264.8,536.8 267.6,534.2 270.4,532.1C273.2,530.0 275.1,528.6 278.8,526.5C282.5,524.4 288.1,522.3 292.7,519.6C297.3,516.9 302.5,513.1 306.7,510.5C310.9,507.9 313.9,506.0 317.8,504.2C321.7,502.4 326.6,501.1 330.0,499.8C333.4,498.5 335.5,497.1 338.2,496.4C340.9,495.7 343.2,495.6 346.4,495.4C349.6,495.2 354.8,495.4 357.3,495.0C359.8,494.6 359.9,493.1 361.4,493.2C362.9,493.3 364.6,495.8 366.2,495.7C367.8,495.6 368.8,493.9 371.0,492.3C373.2,490.7 376.9,487.4 379.2,486.1C381.5,484.9 383.3,485.7 384.7,484.8C386.1,483.9 385.6,482.4 387.4,480.7C389.2,479.0 392.4,476.8 395.6,474.5C398.8,472.2 403.0,469.9 406.6,467.0C410.2,464.1 413.9,460.6 417.5,457.4C421.1,454.2 424.8,451.1 428.4,447.9C432.0,444.7 435.8,441.6 439.4,438.3C443.0,435.0 447.1,430.7 450.3,428.0C453.5,425.3 456.0,423.6 458.5,421.9C461.0,420.2 463.5,418.6 465.4,417.8C467.3,417.0 467.0,417.1 470.0,417.3C473.0,417.5 478.8,418.7 483.4,418.8C488.0,418.9 494.5,417.8 497.5,418.2C500.5,418.6 500.2,420.2 501.6,421.1C503.0,422.0 504.4,423.3 505.7,423.4C507.0,423.5 507.4,422.3 509.2,421.7C511.0,421.1 513.9,420.8 516.3,419.9C518.6,419.0 520.6,416.7 523.3,416.6C526.0,416.5 528.6,418.6 532.7,419.3C536.8,420.1 541.7,421.1 547.9,421.1C554.1,421.2 563.4,419.6 570.0,419.6L570.9,419.6L571.8,419.6L572.7,419.6L573.5,419.7L574.4,419.7L575.2,419.8L576.1,419.8L576.9,419.9L577.7,420.0L578.5,420.0L579.3,420.1L580.1,420.2L580.9,420.3L581.7,420.4L582.4,420.4L583.2,420.5L583.9,420.6L584.7,420.7L585.4,420.7L586.2,421.0L586.9,420.7L587.6,421.0L588.5,421.1L589.4,421.1L590.3,421.0L591.1,420.9L591.9,421.9L592.8,421.1L593.6,421.9L594.3,422.5L595.1,421.7L595.9,421.9L596.7,422.5L597.5,422.4L598.3,422.7L599.1,422.9L599.9,422.2L600.7,422.3L601.6,422.5L602.4,422.2L603.1,421.8L603.9,422.7L604.7,422.4L605.5,422.1L606.3,421.1L607.0,421.9L607.8,421.6L608.6,421.0L609.4,421.1L610.2,420.5L611.0,420.0L611.9,419.7L612.7,419.6L613.5,419.2L614.3,419.3L615.2,419.6L616.0,419.4L616.9,419.0L617.7,419.3L618.4,419.0L619.2,418.4L620.0,418.6L620.7,418.4L621.5,418.7L622.3,418.3L623.1,417.9L623.9,418.2L624.8,418.5L625.6,417.6L626.4,418.3L627.2,417.2L628.0,417.4L628.8,417.3L629.6,417.8L630.5,418.0L631.3,417.7L632.1,417.2L632.9,417.8L633.7,417.1L634.5,417.3L635.3,417.0L636.2,417.7L637.1,417.4L638.0,417.5L638.8,417.4L639.7,417.8L640.6,417.2L641.5,417.6L642.4,417.4L643.3,417.7L644.2,417.2L645.1,417.5L645.9,417.4L646.8,417.1L647.6,417.1L648.4,417.6L649.2,417.0L649.9,418.1L650.6,417.3L651.3,417.2L652.0,417.9L653.1,417.6L654.1,418.9L655.0,418.5L655.8,418.5L656.6,418.8L657.4,419.3L658.1,420.1L658.7,420.4L659.4,420.8L660.1,421.2L660.7,421.6L661.4,422.0C664.1,423.6 666.4,425.7 668.4,427.8C670.4,429.9 671.7,431.9 673.1,434.8C674.5,437.7 675.5,441.9 676.6,445.4C677.7,448.9 678.7,452.4 679.6,455.9C680.5,459.4 680.9,463.2 681.9,466.5C682.9,469.8 684.4,475.2 685.6,475.8C686.9,476.4 688.2,473.6 689.4,470.3L689.6,469.7L689.8,469.1L690.0,468.4L690.2,467.7L690.4,467.0L690.6,466.1L690.8,465.5L691.0,464.7L691.2,463.9L691.4,462.5L691.6,462.3L691.7,461.5L691.9,460.7L692.1,459.0L692.3,458.3L692.5,457.3L692.7,456.4L692.9,456.3L693.1,456.0L693.4,455.1L693.6,454.0L693.8,453.5L694.0,452.3L694.2,450.8L694.5,449.6L694.7,448.8L694.9,449.3L695.1,447.4L695.4,446.9L695.6,446.4L695.9,444.9L696.1,444.7L696.4,444.5L696.8,443.2L697.2,443.2L697.7,441.7L698.1,440.9L698.6,441.6L699.1,440.0L699.6,440.1L700.1,439.0L700.6,437.2L701.1,437.5L701.6,436.7L702.2,436.1L702.7,436.2L703.3,434.7L703.8,434.8L704.4,433.9L705.0,432.7L705.7,433.4L706.3,431.3L707.0,431.6L707.6,431.8L708.2,430.0L708.9,429.2L709.6,429.2L710.3,429.9L711.0,429.8L711.8,427.5L712.5,428.0L713.2,427.6L713.9,427.8L714.6,426.2L715.2,426.4L716.0,425.9L716.7,425.1L717.4,425.6L718.1,424.0L718.9,424.9L719.5,423.1L720.2,422.6L720.9,423.2L721.6,422.5L722.2,422.3L723.1,421.4L724.0,422.5L724.8,421.6L725.7,423.3L726.5,423.3L727.2,423.6L728.0,422.9L728.7,422.8L729.3,421.8L729.8,421.3L730.3,420.7L731.0,421.0L731.7,418.9L732.7,419.3L733.3,419.9L734.0,418.0L734.8,418.3L735.6,418.3L736.5,419.5L737.4,418.6L738.3,418.3L739.2,419.3L740.1,417.9L741.0,418.3L741.8,418.4L742.6,418.8L743.3,418.2L744.4,418.5L745.4,418.1L746.3,417.3L747.2,417.0L748.0,416.5L748.8,417.6L749.6,417.2L750.3,417.0L751.2,417.2L752.0,417.4L752.8,417.7L753.5,418.1L754.2,418.6L755.0,419.3C756.6,420.8 758.3,423.0 759.7,425.8C761.1,428.6 762.1,432.1 763.2,436.3C764.4,440.5 765.5,445.6 766.6,451.0C767.7,456.4 768.9,463.9 769.8,468.4C770.7,472.9 771.2,475.4 772.2,478.1C773.2,480.8 774.4,482.7 775.5,484.6C776.6,486.5 777.6,486.5 778.7,489.5C779.8,492.5 780.9,498.8 782.0,502.6C783.1,506.4 784.0,510.0 785.2,512.3C786.4,514.6 787.9,515.8 789.3,516.4C790.7,517.0 792.2,515.1 793.4,515.6C794.6,516.1 795.2,517.4 796.6,519.6C798.0,521.8 800.0,527.9 801.5,528.6C803.0,529.3 804.2,526.7 805.6,523.7C807.0,520.7 808.4,515.0 809.7,510.7C811.1,506.4 812.4,501.1 813.7,497.7C815.1,494.3 816.4,491.1 817.8,490.3C819.2,489.5 820.7,491.0 821.9,492.8C823.1,494.6 824.1,497.4 825.1,500.9C826.1,504.4 826.8,511.0 827.6,514.0C828.4,517.0 828.9,518.8 829.7,518.8C830.5,518.8 831.5,517.2 832.4,514.0C833.3,510.8 833.9,503.2 834.9,499.3C835.9,495.4 836.8,491.2 838.1,490.3C839.5,489.4 841.5,493.9 843.0,493.6C844.5,493.3 845.7,491.3 847.1,488.7C848.5,486.1 849.7,482.6 851.2,478.1C852.7,473.6 854.4,467.6 856.0,461.9C857.6,456.2 859.3,448.9 860.9,444.0C862.5,439.1 863.9,435.7 865.8,432.6C867.7,429.5 870.1,427.9 872.3,425.2C874.5,422.5 876.9,417.5 878.8,416.3C880.7,415.1 882.1,415.7 883.7,417.9C885.3,420.1 887.1,424.9 888.6,429.3C890.1,433.7 891.4,438.0 892.7,444.0C894.1,450.0 895.6,458.8 896.7,465.1C897.8,471.4 898.6,476.1 899.5,482.0C900.4,487.9 901.2,494.5 901.8,500.8C902.4,507.1 902.5,514.5 903.0,520.0C903.5,525.5 904.4,529.4 905.1,534.0C905.8,538.6 906.5,543.2 907.2,547.9C907.9,552.5 908.5,557.2 909.3,561.9C910.1,566.5 911.2,571.1 912.1,575.8C913.0,580.4 914.0,585.4 914.9,589.8C915.8,594.2 916.7,598.7 917.7,602.4C918.8,606.1 919.7,610.2 921.2,612.1C922.7,614.0 925.1,613.1 926.8,613.8C928.5,614.5 929.9,615.1 931.6,616.3C933.3,617.5 935.6,620.6 937.2,620.8C938.8,621.0 940.0,619.2 941.4,617.7C942.8,616.2 944.0,613.7 945.6,612.1C947.2,610.5 949.3,610.0 951.2,607.9C953.1,605.8 954.9,603.5 956.8,599.6C958.7,595.7 960.8,589.3 962.4,584.2C964.0,579.1 965.1,574.5 966.5,568.9C967.9,563.3 969.5,556.9 970.7,550.7C972.0,544.6 973.1,538.0 974.0,532.0C974.9,526.0 975.2,521.1 976.1,514.7C977.0,508.3 978.2,500.6 979.2,493.6C980.2,486.6 981.3,479.8 982.2,472.5C983.1,465.2 983.8,456.9 984.4,449.8C985.0,442.8 985.5,436.2 986.0,430.2C986.5,424.2 987.2,416.4 987.5,413.6"/></g>
</svg></body></html>
